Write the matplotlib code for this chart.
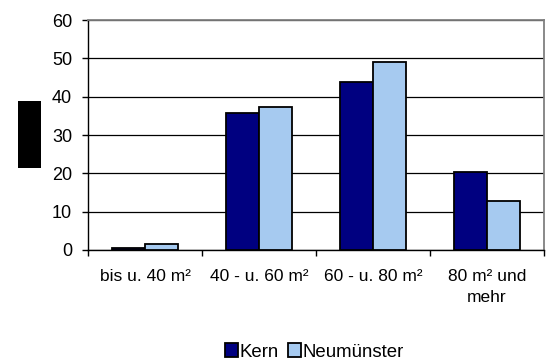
import matplotlib
matplotlib.use("Agg")
import matplotlib.pyplot as plt
import numpy as np
from matplotlib.patches import Rectangle

plt.rcParams['font.family'] = ['Liberation Sans', 'DejaVu Sans']

categories = ["bis u. 40 m²", "40 - u. 60 m²", "60 - u. 80 m²", "80 m² und\nmehr"]
kern = [0.5, 35.8, 43.8, 20.3]
neumuenster = [1.6, 37.4, 49.0, 12.8]
series_names = ["Kern", "Neumünster"]
yticks = [0, 10, 20, 30, 40, 50, 60]

fig = plt.figure(figsize=(5.47, 3.61), dpi=100)
ax = fig.add_axes([0.161, 0.3075, 0.833, 0.637])

x = np.arange(len(categories))
w = 0.29
ax.bar(x - w / 2, kern, w, color="#000080", edgecolor="black", linewidth=1.3,
       label=series_names[0], zorder=3)
ax.bar(x + w / 2, neumuenster, w, color="#A6CAF0", edgecolor="black", linewidth=1.3,
       label=series_names[1], zorder=3)

ax.set_xlim(-0.5, len(categories) - 0.5)
ax.set_ylim(0, 60)
ax.set_yticks(yticks)
ax.yaxis.grid(True, color="black", linewidth=0.9, zorder=0)
ax.set_axisbelow(True)

# category boundaries carry the x ticks, labels sit centred between them
ax.set_xticks(np.arange(len(categories) + 1) - 0.5)
ax.set_xticklabels([])
ax.set_xticks(x, minor=True)
ax.set_xticklabels(categories, minor=True, fontsize=12.5, linespacing=1.45)
ax.tick_params(axis="x", which="minor", length=0, pad=14)
ax.tick_params(axis="x", which="major", length=4.5, width=1, direction="out")
ax.tick_params(axis="y", length=4.5, width=1, direction="out", labelsize=13, pad=7)

for side in ("top", "right"):
    ax.spines[side].set_color("#808080")
    ax.spines[side].set_linewidth(1.3)
for side in ("left", "bottom"):
    ax.spines[side].set_color("black")
    ax.spines[side].set_linewidth(1.0)

# solid block left of the value axis
fig.patches.append(Rectangle((18 / 547, 1 - 168 / 361), 23 / 547, 67 / 361,
                             transform=fig.transFigure, facecolor="black",
                             edgecolor="none"))

fig.legend(loc="center", bbox_to_anchor=(314 / 547, 1 - 352 / 361), ncol=2, frameon=False,
           fontsize=13.4, handlelength=0.7, handleheight=0.7, handletextpad=0.08,
           columnspacing=0.5, borderpad=0)

fig.savefig("out.png", dpi=100)
